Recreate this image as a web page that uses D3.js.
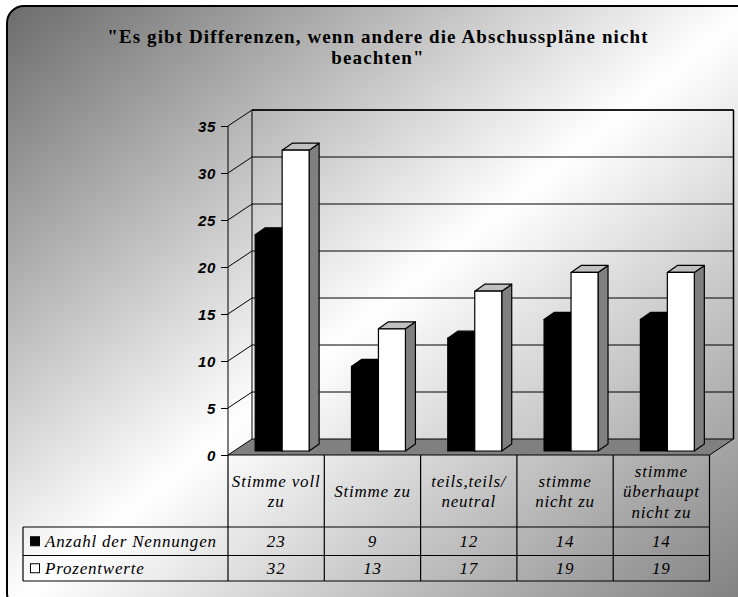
<!DOCTYPE html>
<html>
<head>
<meta charset="utf-8">
<script src="https://cdn.jsdelivr.net/npm/d3@7"></script>
<style>
  html, body { margin: 0; padding: 0; background: #fff; }
  svg { display: block; }
</style>
</head>
<body>
<svg id="chart" width="738" height="597"></svg>
<script>
// Survey answers and their counts / percentages
const categories = [
  ["Stimme voll", "zu"],
  ["Stimme zu"],
  ["teils,teils/", "neutral"],
  ["stimme", "nicht zu"],
  ["stimme", "überhaupt", "nicht zu"]
];
const seriesNames = ["Anzahl der Nennungen", "Prozentwerte"];
const anzahl = [23, 9, 12, 14, 14];
const prozent = [32, 13, 17, 19, 19];
const yTicks = [0, 5, 10, 15, 20, 25, 30, 35];
const titleLines = ["\"Es gibt Differenzen, wenn andere die Abschusspläne nicht", "beachten\""];

const seriesValues = [anzahl, prozent];
const svg = d3.select("#chart");
const SERIF = "Liberation Serif";
const SANS = "Liberation Sans";

// Diagonal grey-white-grey background inside the rounded frame
const defs = svg.append("defs");
const grad = defs.append("linearGradient").attr("id", "bg")
  .attr("x1", 0).attr("y1", 0).attr("x2", 1).attr("y2", 1);
grad.append("stop").attr("offset", 0).attr("stop-color", "#6c6c6c");
grad.append("stop").attr("offset", 0.5).attr("stop-color", "#ffffff");
grad.append("stop").attr("offset", 1).attr("stop-color", "#7c7c7c");

svg.append("rect")
  .attr("x", 7).attr("y", 6).attr("width", 748).attr("height", 604)
  .attr("rx", 17).attr("ry", 17)
  .attr("fill", "url(#bg)").attr("stroke", "#000").attr("stroke-width", 2);

// Title
const title = svg.append("text")
  .style("font-family", SERIF).style("font-weight", "bold").style("font-size", "19px")
  .style("letter-spacing", "1.1px")
  .attr("text-anchor", "middle");
titleLines.forEach((t, i) => {
  title.append("tspan").attr("x", 378).attr("y", 43 + i * 21).text(t);
});

// Scales: front plane of the 3D box
const x = d3.scaleBand().domain(d3.range(categories.length)).range([228, 709.5]).padding(0);
const y = d3.scaleLinear().domain([0, 35]).range([455, 126]);
const inner = d3.scaleBand().domain(d3.range(seriesNames.length))
  .range([0, x.bandwidth()]).paddingInner(0).paddingOuter(0.785);

const depth = { dx: 24, dy: -16 };       // wall / floor depth
const barShift = { dx: 6, dy: -4 };      // bars stand a little behind the front edge
const barDepth = { dx: 10, dy: -7 };     // thickness of each bar

const x0 = x.range()[0], x1 = x.range()[1];
const g = svg.append("g");

// Floor
g.append("path")
  .attr("d", `M${x0},${y(0)}L${x1},${y(0)}L${x1 + depth.dx},${y(0) + depth.dy}L${x0 + depth.dx},${y(0) + depth.dy}Z`)
  .attr("fill", "#808080").attr("stroke", "#000").attr("stroke-width", 1);

// Gridlines on back and side wall
yTicks.filter(t => t > 0).forEach(t => {
  const yy = y(t);
  g.append("line")
    .attr("x1", x0 + depth.dx).attr("x2", x1 + depth.dx)
    .attr("y1", yy + depth.dy).attr("y2", yy + depth.dy)
    .attr("stroke", "#000").attr("stroke-width", 1);
  g.append("line")
    .attr("x1", x0).attr("y1", yy)
    .attr("x2", x0 + depth.dx).attr("y2", yy + depth.dy)
    .attr("stroke", "#000").attr("stroke-width", 1);
});
// Wall edges
g.append("line")
  .attr("x1", x0 + depth.dx).attr("x2", x0 + depth.dx)
  .attr("y1", y(35) + depth.dy).attr("y2", y(0) + depth.dy)
  .attr("stroke", "#000").attr("stroke-width", 1);
g.append("line")
  .attr("x1", x1 + depth.dx).attr("x2", x1 + depth.dx)
  .attr("y1", y(35) + depth.dy).attr("y2", y(0) + depth.dy)
  .attr("stroke", "#000").attr("stroke-width", 1.5);
g.append("line")
  .attr("x1", x0 + depth.dx).attr("x2", x1 + depth.dx)
  .attr("y1", y(35) + depth.dy).attr("y2", y(35) + depth.dy)
  .attr("stroke", "#000").attr("stroke-width", 1.5);

// Y axis
const yAxis = d3.axisLeft(y).tickValues(yTicks).tickSize(7).tickPadding(5);
const ya = svg.append("g").attr("transform", `translate(${x0},0)`).call(yAxis);
ya.select(".domain").attr("stroke", "#000").attr("d", `M0,${y(35)}V${y(0)}`);
ya.selectAll(".tick line").attr("stroke", "#000");
ya.selectAll(".tick text")
  .style("font-family", SANS).style("font-weight", "bold").style("font-style", "italic")
  .style("font-size", "15px").style("letter-spacing", "0.6px")
  .attr("fill", "#000").attr("dy", "0.36em");

// Bars
const faceColors = [
  { front: "#000", top: "#000", side: "#000" },
  { front: "#fff", top: "#c0c0c0", side: "#808080" }
];
const bars = svg.append("g");
categories.forEach((c, ci) => {
  seriesValues.forEach((vals, si) => {
    const v = vals[ci];
    const bx = x(ci) + inner(si) + barShift.dx;
    const bw = inner.bandwidth();
    const yb = y(0) + barShift.dy;
    const yt = y(v) + barShift.dy;
    const col = faceColors[si];
    const bg = bars.append("g").attr("stroke", "#000").attr("stroke-width", 1.2).attr("stroke-linejoin", "round");
    // side face
    bg.append("path")
      .attr("d", `M${bx + bw},${yb}L${bx + bw + barDepth.dx},${yb + barDepth.dy}L${bx + bw + barDepth.dx},${yt + barDepth.dy}L${bx + bw},${yt}Z`)
      .attr("fill", col.side);
    // top face
    bg.append("path")
      .attr("d", `M${bx},${yt}L${bx + barDepth.dx},${yt + barDepth.dy}L${bx + bw + barDepth.dx},${yt + barDepth.dy}L${bx + bw},${yt}Z`)
      .attr("fill", col.top);
    // front face
    bg.append("rect")
      .attr("x", bx).attr("y", yt).attr("width", bw).attr("height", yb - yt)
      .attr("fill", col.front);
  });
});

// Data table below the chart
const table = svg.append("g");
const cellText = sel => sel
  .style("font-family", SERIF).style("font-style", "italic").style("font-size", "17px")
  .style("letter-spacing", "0.8px")
  .attr("fill", "#000");
const hdrTop = y(0), hdrBottom = 527, row1 = 555.5, row2 = 581, tableLeft = 23;
const lineStyle = s => s.attr("stroke", "#000").attr("stroke-width", 1.2);

// column separators
d3.range(categories.length + 1).forEach(i => {
  const xx = i < categories.length ? x(i) : x1;
  table.append("line").attr("x1", xx).attr("x2", xx).attr("y1", hdrTop).attr("y2", row2).call(lineStyle);
});
// rows
[hdrBottom, row1, row2].forEach(yy => {
  table.append("line").attr("x1", tableLeft).attr("x2", x1).attr("y1", yy).attr("y2", yy).call(lineStyle);
});
table.append("line").attr("x1", tableLeft).attr("x2", tableLeft).attr("y1", hdrBottom).attr("y2", row2).call(lineStyle);

// header labels
categories.forEach((c, ci) => {
  const cx = x(ci) + x.bandwidth() / 2;
  const cy = (hdrTop + hdrBottom) / 2;
  const t = table.append("text").attr("text-anchor", "middle").call(cellText);
  c.forEach((line, li) => {
    t.append("tspan").attr("x", cx)
      .attr("y", cy + (li - (c.length - 1) / 2) * 20.5 + 6)
      .text(line);
  });
});

// value rows with legend keys
const rowsY = [[hdrBottom, row1], [row1, row2]];
seriesNames.forEach((name, si) => {
  const [ra, rb] = rowsY[si];
  const cy = (ra + rb) / 2;
  table.append("rect")
    .attr("x", 30.5).attr("y", cy - 4.5).attr("width", 9).attr("height", 9)
    .attr("fill", faceColors[si].front).attr("stroke", "#000").attr("stroke-width", 1);
  table.append("text").attr("x", 45).attr("y", cy + 6).call(cellText).text(name);
  seriesValues[si].forEach((v, ci) => {
    table.append("text").attr("text-anchor", "middle").call(cellText)
      .attr("x", x(ci) + x.bandwidth() / 2).attr("y", cy + 6).text(v);
  });
});
</script>
</body>
</html>
